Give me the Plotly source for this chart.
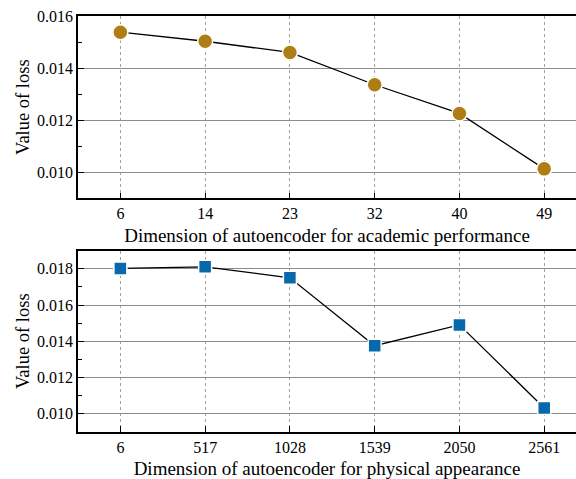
import plotly.graph_objects as go

dims_academic = ["6", "14", "23", "32", "40", "49"]
loss_academic = [0.01538, 0.01503, 0.01460, 0.01336, 0.01226, 0.01013]

dims_physical = ["6", "517", "1028", "1539", "2050", "2561"]
loss_physical = [0.01802, 0.01811, 0.01750, 0.01375, 0.01490, 0.01031]

font_family = "'Liberation Serif', 'Times New Roman', Tinos, 'DejaVu Serif', serif"

fig = go.Figure()
fig.add_trace(go.Scatter(
    x=list(range(len(dims_academic))), y=loss_academic, mode="lines+markers",
    line=dict(color="black", width=1.3),
    marker=dict(symbol="circle", size=15, color="#B07D14", line=dict(color="white", width=1.5)),
    xaxis="x", yaxis="y", showlegend=False))
fig.add_trace(go.Scatter(
    x=list(range(len(dims_physical))), y=loss_physical, mode="lines+markers",
    line=dict(color="black", width=1.3),
    marker=dict(symbol="square", size=13, color="#0868AC", line=dict(color="white", width=1.5)),
    xaxis="x2", yaxis="y2", showlegend=False))

H = 479.0
def dom(top, bottom):
    return [1 - bottom / H, 1 - top / H]

xcommon = dict(
    range=[-0.5, 5.375], showline=True, linecolor="black", linewidth=1.5, mirror=True,
    ticks="inside", ticklen=6, tickwidth=1.3, tickcolor="black",
    showgrid=True, gridcolor="#a0a0a0", griddash="3px,3px", gridwidth=1,
    zeroline=False, automargin=False,
    tickfont=dict(size=16, color="black", family=font_family),
    title_font=dict(size=19, color="black", family=font_family), title_standoff=7,
)
ycommon = dict(
    showline=True, linecolor="black", linewidth=1.5, mirror=False,
    ticks="inside", ticklen=6, tickwidth=1.3, tickcolor="black",
    showgrid=True, gridcolor="#8c8c8c", gridwidth=1, zeroline=False, automargin=False,
    tickformat=".3f", dtick=0.002,
    minor=dict(ticks="inside", ticklen=4, tickwidth=1, tickcolor="black", dtick=0.001, showgrid=False),
    tickfont=dict(size=16, color="black", family=font_family),
    title_font=dict(size=18.5, color="black", family=font_family), title_standoff=3,
)

fig.update_layout(
    width=576, height=479, autosize=False,
    margin=dict(l=78, r=0, t=0, b=0),
    plot_bgcolor="white", paper_bgcolor="white",
    font=dict(family=font_family, color="black"),
    xaxis=dict(xcommon, domain=[0, 1], anchor="y",
               tickvals=list(range(len(dims_academic))), ticktext=dims_academic,
               title_text="Dimension of autoencoder for academic performance"),
    yaxis=dict(ycommon, domain=dom(16, 198.3), anchor="x", range=[0.009, 0.016],
               tick0=0.010, title_text="Value of loss"),
    xaxis2=dict(xcommon, domain=[0, 1], anchor="y2",
                tickvals=list(range(len(dims_physical))), ticktext=dims_physical,
                title_text="Dimension of autoencoder for physical appearance"),
    yaxis2=dict(ycommon, domain=dom(250.7, 431.7), anchor="x2", range=[0.009, 0.019],
                tick0=0.010, title_text="Value of loss"),
)

fig.write_html("out.html", config={"displayModeBar": False},
               post_script="document.body.style.margin='0';document.body.style.overflow='hidden';")
